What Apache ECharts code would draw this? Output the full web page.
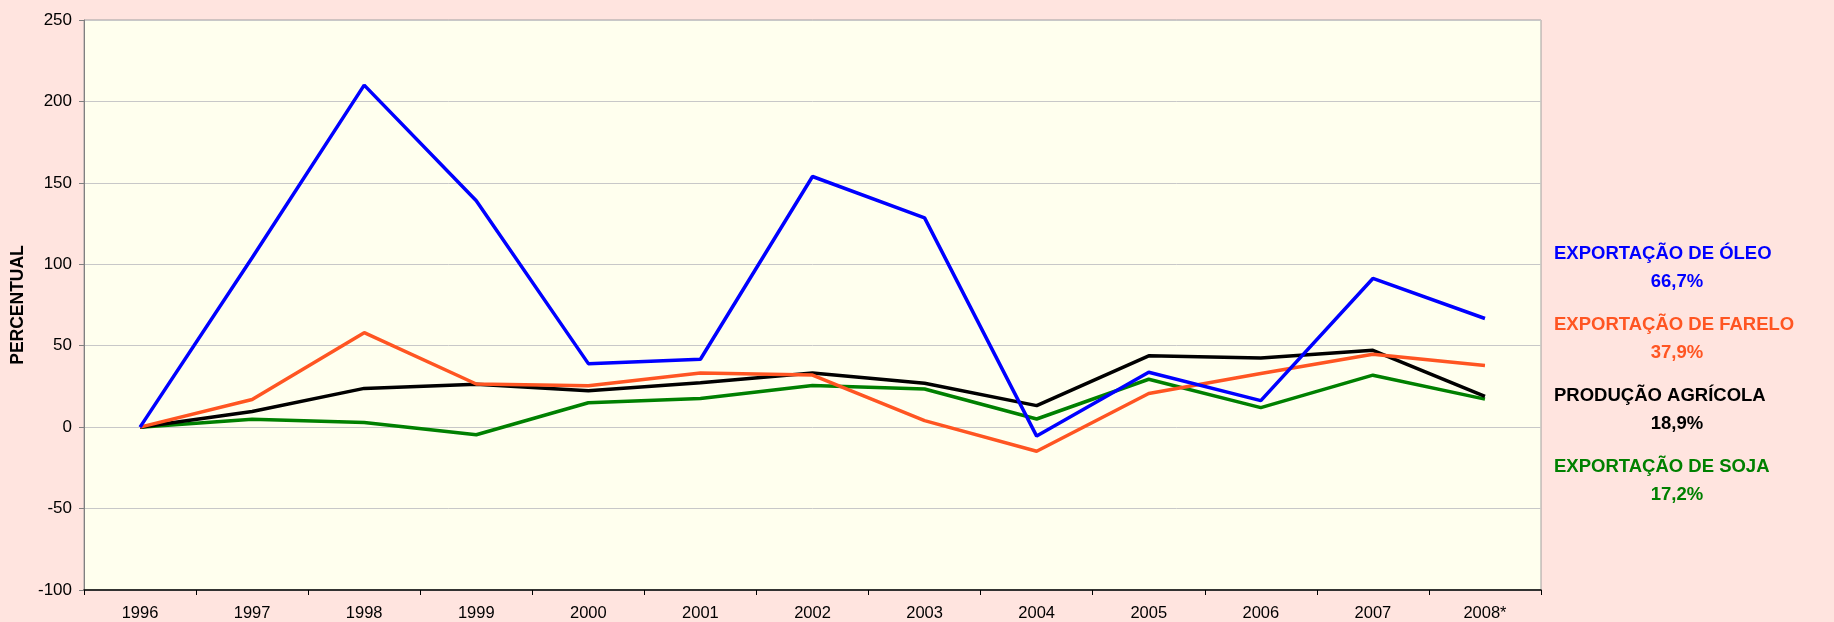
<!DOCTYPE html>
<html>
<head>
<meta charset="utf-8">
<title>Crescimento percentual</title>
<script src="https://cdn.jsdelivr.net/npm/echarts@6/dist/echarts.min.js"></script>
<style>
  html, body { margin: 0; padding: 0; background: #ffe4df; }
  #chart { width: 1834px; height: 622px; }
</style>
</head>
<body>
<div id="chart"></div>
<script>
// anos
var anos = ['1996', '1997', '1998', '1999', '2000', '2001', '2002', '2003', '2004', '2005', '2006', '2007', '2008*']

// séries (percentual)
var exportOleo = [0, 104, 210, 139, 39, 41.7, 153.9, 128.5, -5.5, 33.7, 16.3, 91.3, 66.7]
var exportFarelo = [0, 17, 58, 26.5, 25.4, 33.3, 32, 4, -14.8, 20.7, 32.9, 44.7, 37.9]
var producaoAgricola = [0, 9.6, 23.8, 26.4, 22.4, 27.2, 33.3, 27, 13.2, 43.8, 42.5, 47.2, 18.9]
var exportSoja = [0, 4.9, 2.8, -4.7, 15, 17.6, 25.6, 23.4, 5, 29.4, 12, 31.9, 17.2]

// legenda da direita
var legendaNomes = ['EXPORTAÇÃO DE ÓLEO', 'EXPORTAÇÃO DE FARELO', 'PRODUÇÃO AGRÍCOLA', 'EXPORTAÇÃO DE SOJA']
var legendaValores = ['66,7%', '37,9%', '18,9%', '17,2%']
var cores = ['#0000ff', '#ff5522', '#000000', '#008000']

var myChart = echarts.init(document.getElementById('chart'))

var fonte = 'Arial, "Liberation Sans", sans-serif'

// monta os textos da legenda
var graficos = []
legendaNomes.forEach(function (nome, i) {
  var y = 244 + i * 71
  graficos.push({
    type: 'text',
    left: 1554,
    top: y,
    style: { text: nome, fill: cores[i], font: 'bold 18.5px ' + fonte }
  })
  graficos.push({
    type: 'text',
    x: 1677,
    y: y + 28,
    style: { text: legendaValores[i], fill: cores[i], font: 'bold 18.5px ' + fonte, align: 'center' }
  })
})

var series = [exportOleo, exportFarelo, producaoAgricola, exportSoja].map(function (dados, i) {
  return {
    name: legendaNomes[i],
    type: 'line',
    data: dados,
    symbol: 'none',
    lineStyle: { color: cores[i], width: 3.5 },
    itemStyle: { color: cores[i] },
    z: 10 - i
  }
})

var option = {
  backgroundColor: '#ffe4df',
  animation: false,
  textStyle: { fontFamily: fonte },
  grid: {
    left: 84,
    right: 293,
    top: 20,
    bottom: 31,
    show: true,
    backgroundColor: '#ffffee',
    borderColor: '#a0a0a0',
    borderWidth: 1
  },
  xAxis: {
    type: 'category',
    data: anos,
    boundaryGap: true,
    axisLine: { onZero: false, lineStyle: { color: '#000', width: 1.5 } },
    axisTick: { show: true, length: 5, lineStyle: { color: '#000' } },
    axisLabel: { color: '#000', fontSize: 16.5, margin: 15, fontFamily: fonte }
  },
  yAxis: {
    type: 'value',
    min: -100,
    max: 250,
    interval: 50,
    name: 'PERCENTUAL',
    nameLocation: 'middle',
    nameGap: 56,
    nameTextStyle: { color: '#000', fontSize: 17.5, fontWeight: 'bold', fontFamily: fonte },
    axisLine: { show: true, lineStyle: { color: '#808080' } },
    axisTick: { show: true, length: 5, lineStyle: { color: '#808080' } },
    axisLabel: { color: '#000', fontSize: 17, margin: 12, fontFamily: fonte },
    splitLine: { lineStyle: { color: '#c8c8c8', width: 1 } }
  },
  graphic: graficos,
  series: series
}

myChart.setOption(option)

window.addEventListener('resize', function () { myChart.resize() })
</script>
</body>
</html>
